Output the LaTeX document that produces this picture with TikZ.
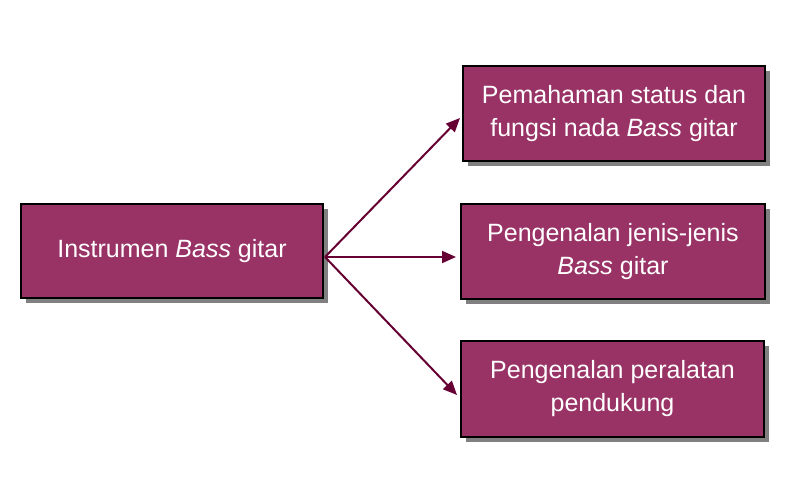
\documentclass[tikz,border=0pt]{standalone}
\usepackage{fontspec}
\setmainfont{Liberation Sans}
\usetikzlibrary{arrows.meta}
\definecolor{boxfill}{HTML}{993366}
\definecolor{arrowcol}{HTML}{660033}
\definecolor{shadowcol}{HTML}{808080}
\begin{document}
\begin{tikzpicture}[x=1pt,y=-1pt,
  box/.style={draw=black, line width=1.5pt, fill=boxfill, text=white, align=center,
    font=\fontsize{25}{33}\selectfont, inner sep=0pt},
  conn/.style={draw=arrowcol, line width=2pt, -{Triangle[length=14pt,width=12pt]}}]
\useasboundingbox (0,0) rectangle (796,499);
% shadows
\fill[shadowcol] (26,209) rectangle (328,303);
\fill[shadowcol] (468,71) rectangle (770,166);
\fill[shadowcol] (466,209) rectangle (770,304);
\fill[shadowcol] (466,346) rectangle (769,442);
\node[box, minimum width=302pt, minimum height=94pt] (a) at (172,251) {Instrumen \textit{Bass} gitar};
\node[box, minimum width=302pt, minimum height=95pt] (b) at (614,113.5) {Pemahaman status dan\\fungsi nada \textit{Bass} gitar};
\node[box, minimum width=304pt, minimum height=95pt] (c) at (613,251.5) {Pengenalan jenis-jenis\\\textit{Bass} gitar};
\node[box, minimum width=303pt, minimum height=96pt] (d) at (612.5,389) {Pengenalan peralatan\\pendukung};
\coordinate (o) at (325,257);
\coordinate (tb) at (460,118);
\coordinate (tc) at (456,257);
\coordinate (td) at (457,395);
\draw[conn] (o) -- (tb);
\draw[conn] (o) -- (tc);
\draw[conn] (o) -- (td);
\end{tikzpicture}
\end{document}
